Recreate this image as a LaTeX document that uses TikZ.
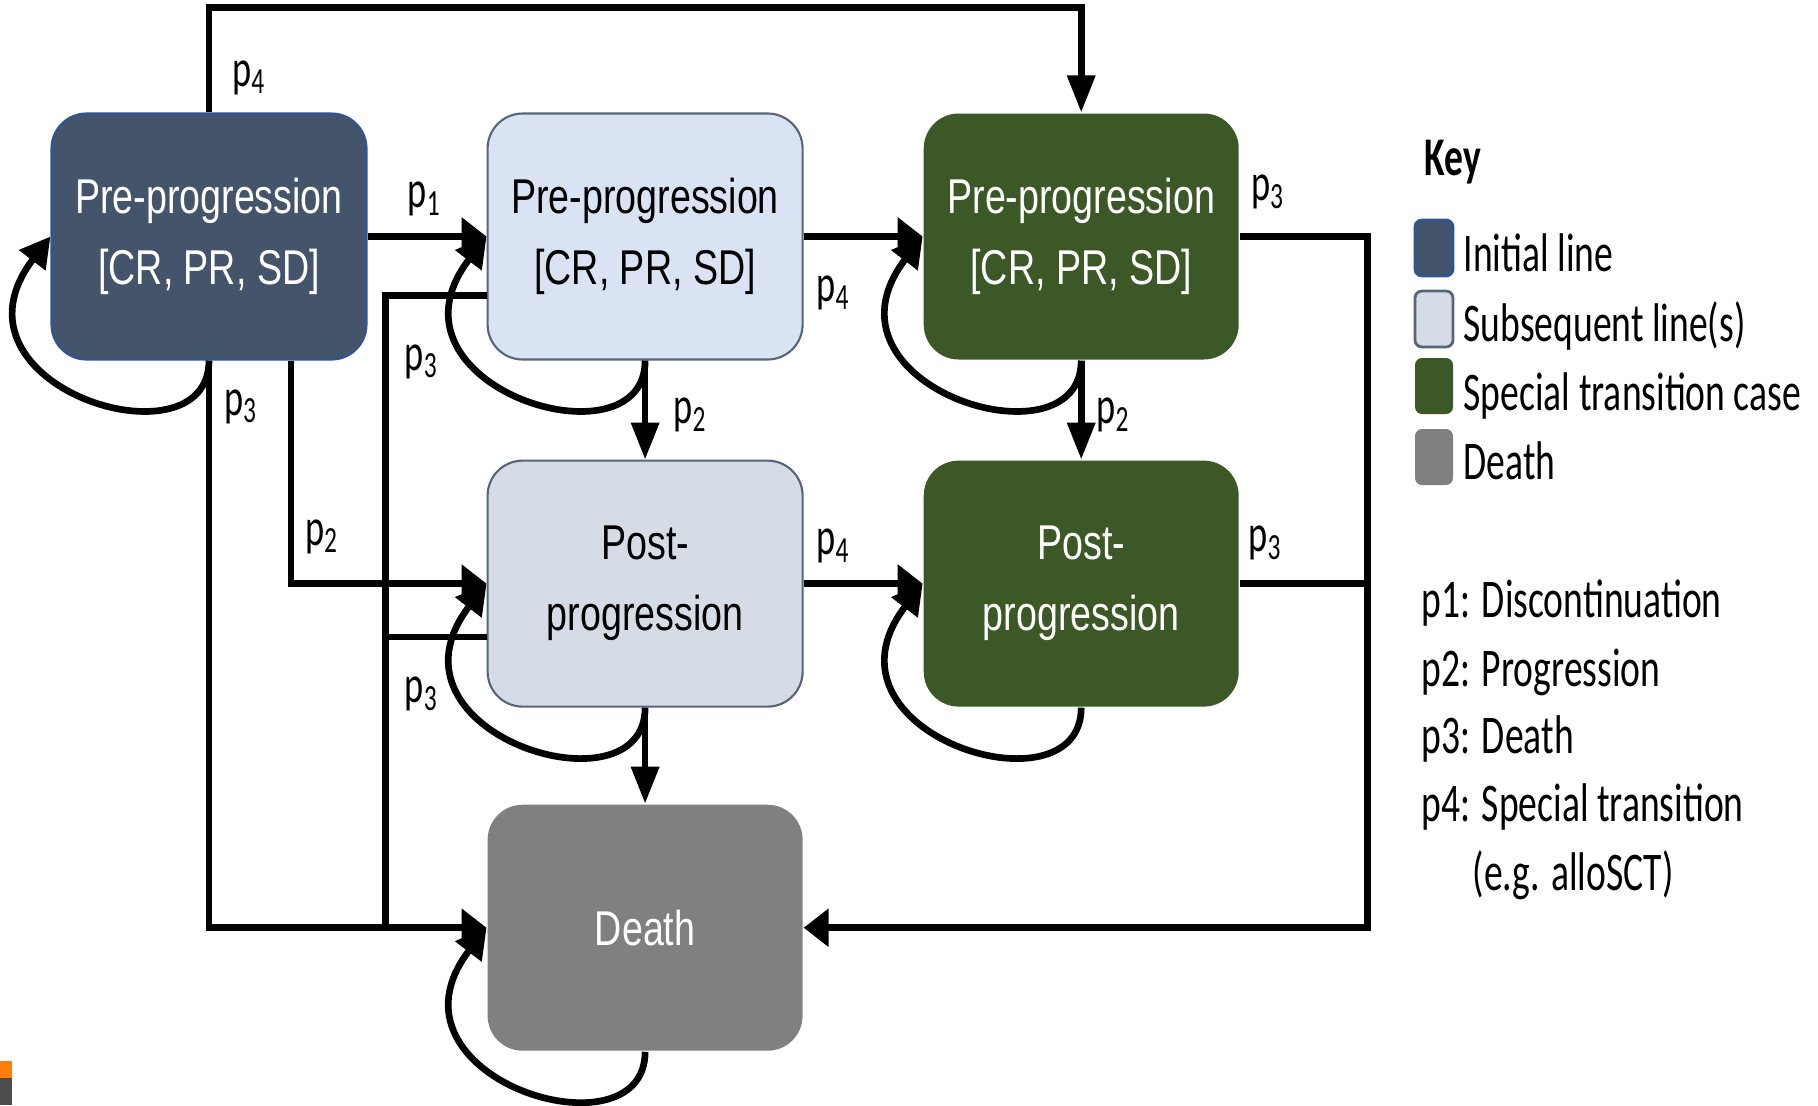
\documentclass[tikz,border=0pt]{standalone}
\usepackage{fontspec}
\setmainfont{Carlito}[FakeStretch=0.69]
\newfontfamily\boxfont{Liberation Sans}[FakeStretch=0.77]
\usetikzlibrary{positioning,arrows.meta}

\definecolor{initial}{HTML}{44546A}
\definecolor{initialedge}{HTML}{2F5597}
\definecolor{subseq}{HTML}{DAE3F3}
\definecolor{subseqpost}{HTML}{D6DCE5}
\definecolor{subseqedge}{HTML}{56657A}
\definecolor{special}{HTML}{3B5826}
\definecolor{death}{HTML}{808080}
\definecolor{logoorange}{HTML}{FF7F0E}
\definecolor{logogrey}{HTML}{4D4D4D}

\begin{document}
\begin{tikzpicture}[
  state/.style={rounded corners=0.35cm, minimum width=3.15cm, minimum height=2.46cm,
    align=center, inner sep=0pt, line width=0.6pt,
    font=\boxfont\fontsize{13.9}{20.2}\selectfont},
  link/.style={line width=1.9pt},
  harrow/.style={link, -{Triangle[length=0.25cm,width=0.37cm]}},
  varrow/.style={link, -{Triangle[length=0.37cm,width=0.27cm]}},
  selfloop/.style={link, -{Triangle[length=0.3cm,width=0.32cm]}},
  plabel/.style={inner sep=0pt, font=\fontsize{15}{16}\selectfont},
  swatch/.style={rounded corners=0.07cm, minimum width=0.38cm, minimum height=0.56cm,
    inner sep=0pt, line width=0.8pt},
  keytext/.style={inner sep=0pt, anchor=base west, font=\fontsize{15.5}{19.4}\selectfont}
]
\useasboundingbox (0,0) rectangle (18.18,-11.05);

% states
\node [state, fill=initial, draw=initialedge, text=white] (a) at (2.09,-2.365)
  {Pre-progression\\{}[CR, PR, SD]};
\node [state, fill=subseq, draw=subseqedge, right=1.19cm of a] (b)
  {Pre-progression\\{}[CR, PR, SD]};
\node [state, fill=special, text=white, right=1.19cm of b] (e)
  {Pre-progression\\{}[CR, PR, SD]};
\node [state, fill=subseqpost, draw=subseqedge, below=0.99cm of b] (c) {Post-\\progression};
\node [state, fill=special, text=white, below=0.99cm of e] (f) {Post-\\progression};
\node [state, fill=death, text=white, below=0.96cm of c] (d) {Death};

% transitions out of the initial line
\draw[harrow] (a.east) -- node[plabel, above=0.17cm, pos=0.48] (l1) {p\textsubscript{1}} (b.west);
\draw[varrow] (a.north) -- node[plabel, right=0.2cm, pos=0.33] (l4a) {p\textsubscript{4}} ++(0,1.05) -| (e.north);
\draw[harrow] ([xshift=0.82cm]a.south) |- (c.west);
\node[plabel] (l2a) at ([xshift=1.13cm,yshift=-1.76cm]a.south) {p\textsubscript{2}};
\draw[harrow] (a.south) |- (d.west);
\node[plabel] (l3a) at ([xshift=0.32cm,yshift=-0.46cm]a.south) {p\textsubscript{3}};

% subsequent lines
\draw[link] ([yshift=-0.59cm]b.west) -| ([xshift=-1.01cm]d.west);
\node[plabel] (l3b) at ([xshift=-0.65cm,yshift=-1.25cm]b.west) {p\textsubscript{3}};
\draw[link] ([yshift=-0.535cm]c.west) -- ++(-1.01,0);
\node[plabel] (l3c) at ([xshift=-0.65cm,yshift=-1.105cm]c.west) {p\textsubscript{3}};
\draw[varrow] (b.south) -- node[plabel, right=0.25cm, yshift=-0.05cm] (l2b) {p\textsubscript{2}} (c.north);
\draw[varrow] (c.south) -- (d.north);
\draw[harrow] (b.east) -- node[plabel, below=0.36cm, pos=0.25] (l4b) {p\textsubscript{4}} (e.west);
\draw[harrow] (c.east) -- node[plabel, above=0.17cm, pos=0.25] (l4c) {p\textsubscript{4}} (f.west);

% special transition case
\draw[varrow] (e.south) -- node[plabel, right=0.12cm, yshift=-0.05cm] (l2e) {p\textsubscript{2}} (f.north);
\draw[harrow] (e.east) -- node[plabel, above=0.24cm, pos=0.22] (l3e) {p\textsubscript{3}} ++(1.28,0) |- (d.east);
\draw[link] (f.east) -- node[plabel, above=0.2cm, pos=0.2] (l3f) {p\textsubscript{3}} ++(1.28,0);

% staying in the same state
\draw[selfloop] (a.south) .. controls +(0,-1.1) and +(-1.15,-1.5) .. (a.west);
\draw[selfloop] (b.south) .. controls +(0,-1.1) and +(-1.15,-1.5) .. (b.west);
\draw[selfloop] (e.south) .. controls +(0,-1.1) and +(-1.15,-1.5) .. (e.west);
\draw[selfloop] (c.south) .. controls +(0,-1.1) and +(-1.15,-1.5) .. (c.west);
\draw[selfloop] (f.south) .. controls +(0,-1.1) and +(-1.15,-1.5) .. (f.west);
\draw[selfloop] (d.south) .. controls +(0,-1.1) and +(-1.15,-1.5) .. (d.west);

% key
\node[keytext, font=\bfseries\fontsize{15.5}{19.4}\selectfont] (key) at (14.24,-1.75) {Key};
\node[swatch, fill=initial, draw=initialedge] (s1) at (14.34,-2.48) {};
\node[swatch, fill=subseqpost, draw=subseqedge] (s2) at (14.34,-3.19) {};
\node[swatch, fill=special] (s3) at (14.34,-3.86) {};
\node[swatch, fill=death] (s4) at (14.34,-4.57) {};
\node[keytext] (k1) at (14.63,-2.71) {Initial line};
\node[keytext] (k2) at (14.63,-3.41) {Subsequent line(s)};
\node[keytext] (k3) at (14.63,-4.10) {Special transition case};
\node[keytext] (k4) at (14.63,-4.79) {Death};
\node[keytext] (p1) at (14.21,-6.17) {p1: Discontinuation};
\node[keytext] (p2) at (14.21,-6.86) {p2: Progression};
\node[keytext] (p3) at (14.21,-7.53) {p3: Death};
\node[keytext] (p4) at (14.21,-8.21) {p4: Special transition};
\node[keytext] (p5) at (14.72,-8.90) {(e.g. alloSCT)};

% corner mark
\fill[logoorange] (0,-10.61) rectangle (0.12,-10.78);
\fill[logogrey] (0,-10.78) rectangle (0.12,-11.05);
\end{tikzpicture}
\end{document}
